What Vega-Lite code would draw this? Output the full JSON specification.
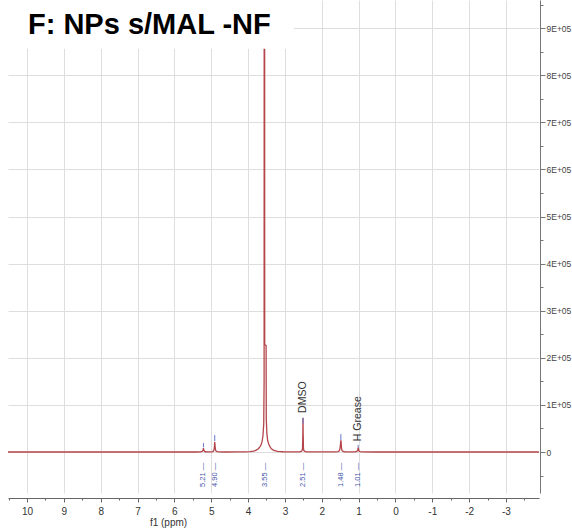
{
  "$schema": "https://vega.github.io/schema/vega-lite/v6.json",
  "width": 531,
  "height": 493,
  "autosize": {"type": "none"},
  "padding": {"left": 8, "right": 33, "top": 0, "bottom": 36},
  "background": "white",
  "config": {"view": {"stroke": null}, "font": "Liberation Sans"},
  "title": {"text": "F: NPs s/MAL -NF", "anchor": "start", "frame": "group", "orient": "top", "offset": -63, "baseline": "alphabetic", "font": "Liberation Sans", "fontSize": 29, "fontWeight": "bold", "color": "#000000", "dx": 20},
  "resolve": {"axis": {"x": "independent", "y": "independent"}},
  "datasets": {
    "spectrum": [
      {"ppm": 10.52, "i": 0}, {"ppm": 9, "i": 0}, {"ppm": 7, "i": 0}, {"ppm": 5.4, "i": 0},
      {"ppm": 5.3, "i": 200}, {"ppm": 5.26, "i": 700}, {"ppm": 5.235, "i": 2000}, {"ppm": 5.22, "i": 5000},
      {"ppm": 5.212, "i": 8500}, {"ppm": 5.2, "i": 4000}, {"ppm": 5.185, "i": 1500}, {"ppm": 5.16, "i": 600},
      {"ppm": 5.1, "i": 200}, {"ppm": 5.0, "i": 300}, {"ppm": 4.96, "i": 900}, {"ppm": 4.935, "i": 2500},
      {"ppm": 4.918, "i": 7000}, {"ppm": 4.905, "i": 21000}, {"ppm": 4.895, "i": 12000}, {"ppm": 4.885, "i": 5000},
      {"ppm": 4.87, "i": 2000}, {"ppm": 4.84, "i": 800}, {"ppm": 4.78, "i": 300}, {"ppm": 4.6, "i": 100},
      {"ppm": 4.3, "i": 200}, {"ppm": 4.1, "i": 500}, {"ppm": 3.95, "i": 1000}, {"ppm": 3.85, "i": 2000},
      {"ppm": 3.78, "i": 4000}, {"ppm": 3.72, "i": 7000}, {"ppm": 3.68, "i": 11000}, {"ppm": 3.65, "i": 15000},
      {"ppm": 3.62, "i": 22000}, {"ppm": 3.595, "i": 35000}, {"ppm": 3.575, "i": 60000}, {"ppm": 3.565, "i": 150000},
      {"ppm": 3.558, "i": 2600000}, {"ppm": 3.554, "i": 2600000}, {"ppm": 3.549, "i": 228000}, {"ppm": 3.511, "i": 226000},
      {"ppm": 3.506, "i": 70000}, {"ppm": 3.49, "i": 40000}, {"ppm": 3.47, "i": 25000}, {"ppm": 3.44, "i": 17000},
      {"ppm": 3.41, "i": 12000}, {"ppm": 3.37, "i": 7000}, {"ppm": 3.3, "i": 3500}, {"ppm": 3.2, "i": 1500},
      {"ppm": 3.05, "i": 600}, {"ppm": 2.9, "i": 300}, {"ppm": 2.7, "i": 250}, {"ppm": 2.6, "i": 500},
      {"ppm": 2.56, "i": 1200}, {"ppm": 2.535, "i": 3000}, {"ppm": 2.522, "i": 8000}, {"ppm": 2.513, "i": 40000},
      {"ppm": 2.509, "i": 72000}, {"ppm": 2.505, "i": 40000}, {"ppm": 2.497, "i": 8000}, {"ppm": 2.485, "i": 3000},
      {"ppm": 2.46, "i": 1200}, {"ppm": 2.42, "i": 500}, {"ppm": 2.3, "i": 200}, {"ppm": 1.8, "i": 200},
      {"ppm": 1.62, "i": 400}, {"ppm": 1.56, "i": 1000}, {"ppm": 1.525, "i": 2500}, {"ppm": 1.505, "i": 7000},
      {"ppm": 1.492, "i": 17000}, {"ppm": 1.482, "i": 25000}, {"ppm": 1.474, "i": 20000}, {"ppm": 1.465, "i": 8000},
      {"ppm": 1.45, "i": 3000}, {"ppm": 1.42, "i": 1200}, {"ppm": 1.37, "i": 500}, {"ppm": 1.25, "i": 300},
      {"ppm": 1.1, "i": 400}, {"ppm": 1.05, "i": 1200}, {"ppm": 1.025, "i": 3500}, {"ppm": 1.012, "i": 9500},
      {"ppm": 1.003, "i": 6000}, {"ppm": 0.99, "i": 2000}, {"ppm": 0.96, "i": 700}, {"ppm": 0.9, "i": 200},
      {"ppm": 0.5, "i": 0}, {"ppm": -1, "i": 0}, {"ppm": -3.9, "i": 0}
    ],
    "markers": [
      {"ppm": 5.212, "lo": 10000, "hi": 19000},
      {"ppm": 4.905, "lo": 23000, "hi": 36000},
      {"ppm": 2.509, "lo": 60000, "hi": 73000},
      {"ppm": 1.482, "lo": 25000, "hi": 38000},
      {"ppm": 1.012, "lo": 9000, "hi": 15000}
    ],
    "peaks": [
      {"ppm": 5.21, "label": "5.21 —"},
      {"ppm": 4.9, "label": "4.90 —"},
      {"ppm": 3.55, "label": "3.55 —"},
      {"ppm": 2.51, "label": "2.51 —"},
      {"ppm": 1.48, "label": "1.48 —"},
      {"ppm": 1.01, "label": "1.01 —"}
    ],
    "notes": [
      {"ppm": 2.51, "i": 83000, "label": "DMSO"},
      {"ppm": 1.01, "i": 23000, "label": "H Grease"}
    ],
    "titlebox": [
      {"x0": 10.7, "x1": 2.76, "y0": 856000, "y1": 1000000}
    ]
  },
  "layer": [
    {
      "data": {"name": "spectrum"},
      "mark": {"type": "line", "color": "#b4454a", "strokeWidth": 1.3, "clip": true, "interpolate": "linear"},
      "encoding": {
        "x": {
          "field": "ppm", "type": "quantitative",
          "scale": {"domain": [10.516, -3.896], "nice": false, "zero": false},
          "axis": {
            "title": "f1 (ppm)", "titleFont": "Liberation Sans", "titleFontSize": 10, "titleFontWeight": "normal", "titleColor": "#333333",
            "titleX": 160, "titleY": 24, "titleBaseline": "middle",
            "values": [-3, -2, -1, 0, 1, 2, 3, 4, 5, 6, 7, 8, 9, 10],
            "labelExpr": "'' + datum.value",
            "labelFont": "Liberation Sans", "labelFontSize": 10, "labelColor": "#333333", "labelPadding": 4,
            "offset": 5, "domainColor": "#666666", "tickColor": "#666666", "tickSize": 4,
            "grid": true, "gridColor": "#dedede", "gridWidth": 1
          }
        },
        "y": {
          "field": "i", "type": "quantitative",
          "scale": {"domain": [-87000, 959700], "nice": false, "zero": false},
          "axis": {
            "orient": "right", "title": null, "offset": 1,
            "values": [0, 100000, 200000, 300000, 400000, 500000, 600000, 700000, 800000, 900000],
            "labelExpr": "datum.value === 0 ? '0' : round(datum.value / 100000) + 'E+05'",
            "labelFont": "Liberation Sans", "labelFontSize": 8.5, "labelColor": "#444444", "labelPadding": 1,
            "domainColor": "#777777", "tickColor": "#777777", "tickSize": 5,
            "grid": true, "gridColor": "#dedede", "gridWidth": 1
          }
        }
      }
    },
    {
      "data": {"name": "markers"},
      "mark": {"type": "rule", "color": "#6677c8", "strokeWidth": 1, "clip": true},
      "encoding": {
        "x": {"field": "ppm", "type": "quantitative",
          "axis": {"orient": "bottom", "title": null, "offset": 5, "values": [-3.5, -2.5, -1.5, -0.5, 0.5, 1.5, 2.5, 3.5, 4.5, 5.5, 6.5, 7.5, 8.5, 9.5, 10.5], "labels": false, "grid": false, "domain": false, "tickSize": 2, "tickColor": "#666666"}},
        "y": {"field": "lo", "type": "quantitative",
          "axis": {"orient": "right", "title": null, "offset": 1, "values": [-50000, 50000, 150000, 250000, 350000, 450000, 550000, 650000, 750000, 850000, 950000], "labels": false, "grid": false, "domain": false, "tickSize": 3, "tickColor": "#777777"}},
        "y2": {"field": "hi"}
      }
    },
    {
      "data": {"name": "titlebox"},
      "mark": {"type": "rect", "fill": "white", "stroke": null, "clip": true},
      "encoding": {
        "x": {"field": "x0", "type": "quantitative", "axis": null},
        "x2": {"field": "x1"},
        "y": {"field": "y0", "type": "quantitative", "axis": null},
        "y2": {"field": "y1"}
      }
    },
    {
      "data": {"name": "peaks"},
      "mark": {"type": "text", "angle": 270, "align": "right", "baseline": "middle", "font": "Liberation Sans", "fontSize": 7.5, "color": "#4455aa"},
      "encoding": {
        "x": {"field": "ppm", "type": "quantitative", "axis": null},
        "y": {"datum": -23000, "type": "quantitative", "axis": null},
        "text": {"field": "label"}
      }
    },
    {
      "data": {"name": "notes"},
      "mark": {"type": "text", "angle": 270, "align": "left", "baseline": "middle", "font": "Liberation Sans", "fontSize": 10.5, "color": "#333333"},
      "encoding": {
        "x": {"field": "ppm", "type": "quantitative", "axis": null},
        "y": {"field": "i", "type": "quantitative", "axis": null},
        "text": {"field": "label"}
      }
    }
  ]
}
